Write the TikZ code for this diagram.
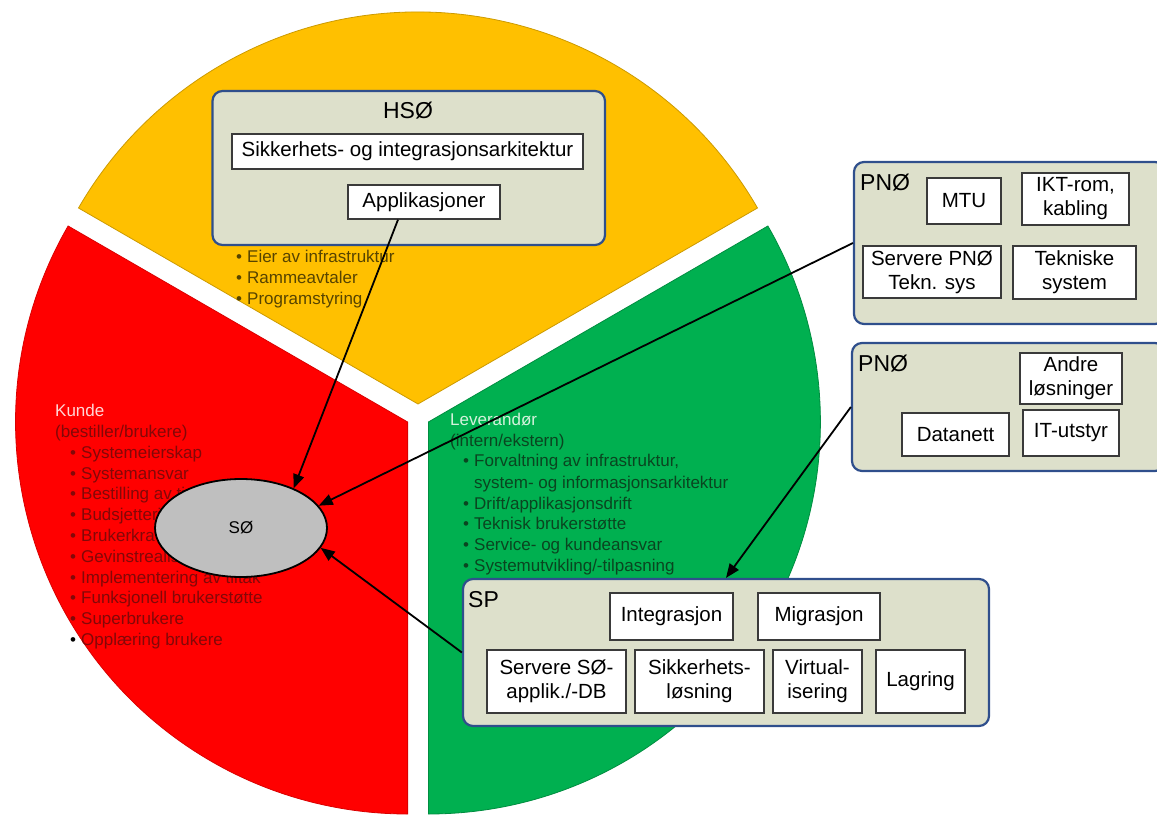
\documentclass[tikz,border=0pt]{standalone}
\usepackage{fontspec}
\setmainfont{Liberation Sans}
\usetikzlibrary{arrows.meta,shapes.geometric}

\definecolor{pieyellow}{HTML}{FFC000}
\definecolor{piered}{HTML}{FF0000}
\definecolor{piegreen}{HTML}{00B050}
\definecolor{groupfill}{HTML}{DDE0CB}
\definecolor{groupline}{HTML}{2F4F8C}
\definecolor{itemline}{HTML}{3A3A3A}
\definecolor{sofill}{HTML}{BFBFBF}
\definecolor{ytext}{HTML}{574400}
\definecolor{rtext}{HTML}{820808}
\definecolor{rhead}{HTML}{FFD6D6}
\definecolor{gtext}{HTML}{0A4520}
\definecolor{ghead}{HTML}{D4F2DC}

\newcommand\pbullet{\makebox[11pt][l]{•}}

\tikzset{
  group/.style={draw=groupline, line width=2.2pt, fill=groupfill,
    rounded corners=10pt, inner sep=0pt},
  item/.style={draw=itemline, line width=1.4pt, fill=white, inner sep=0pt,
    align=center, font=\fontsize{20.5}{24}\selectfont},
  grouptitle/.style={inner sep=0pt, font=\fontsize{23}{27}\selectfont},
  arr/.style={line width=1.8pt, -{Triangle[length=14pt,width=11pt]}},
  slicetext/.style={anchor=west, inner sep=0pt, text height=12pt,
    text depth=3.5pt, font=\fontsize{17}{20}\selectfont},
  slice/.style={line width=0.8pt},
}

\begin{document}
\begin{tikzpicture}[x=1pt,y=1pt]
\path[use as bounding box, clip] (0,0) rectangle (1157,-816);

% exploded pie: three 120-degree slices
\fill[slice, pieyellow, draw=pieyellow!80!black]
  (418,-404) -- ++(30:392) arc[start angle=30, end angle=150, radius=392] -- cycle;
\fill[slice, piegreen, draw=piegreen!80!black]
  (428.4,-422) -- ++(-90:392) arc[start angle=-90, end angle=30, radius=392] -- cycle;
\fill[slice, piered, draw=piered!85!black]
  (407.6,-422) -- ++(150:392) arc[start angle=150, end angle=270, radius=392] -- cycle;

% texts of the yellow slice
\node[slicetext, text=ytext] (y1) at (236,-258) {\pbullet Eier av infrastruktur};
\node[slicetext, text=ytext] (y2) at (236,-279) {\pbullet Rammeavtaler};
\node[slicetext, text=ytext] (y3) at (236,-300) {\pbullet Programstyring};

% texts of the red slice
\node[slicetext, text=rhead] (rhead) at (55,-412) {Kunde};
\node[slicetext, text=rtext] (rsub) at (55,-433.5) {(bestiller/brukere)};
\foreach \t [count=\i] in {Systemeierskap, Systemansvar, Bestilling av tjenester,
    Budsjettering, Brukerkrav, Gevinstrealisering, Implementering av tiltak,
    Funksjonell brukerstøtte, Superbrukere}
  \node[slicetext, text=rtext] (r\i) at (70,{-454-20.8*(\i-1)}) {\pbullet\t};
\node[slicetext, text=rtext] (r10) at (70,-641.2)
  {\makebox[11pt][l]{\textcolor{black}{•}}Opplæring brukere};

% texts of the green slice
\node[slicetext, text=ghead] (ghead) at (450,-421) {Leverandør};
\node[slicetext, text=gtext] (gsub) at (450,-442) {(intern/ekstern)};
\node[slicetext, text=gtext] (g1) at (463,-462) {\pbullet Forvaltning av infrastruktur,};
\node[slicetext, text=gtext] (g1b) at (474,-484) {system- og informasjonsarkitektur};
\node[slicetext, text=gtext] (g2) at (463,-505) {\pbullet Drift/applikasjonsdrift};
\node[slicetext, text=gtext] (g3) at (463,-525) {\pbullet Teknisk brukerstøtte};
\node[slicetext, text=gtext] (g4) at (463,-546) {\pbullet Service- og kundeansvar};
\node[slicetext, text=gtext] (g5) at (463,-567) {\pbullet Systemutvikling/-tilpasning};

% central ellipse
\node[ellipse, draw=black, line width=1.8pt, fill=sofill, minimum width=172pt,
  minimum height=98pt, inner sep=0pt, font=\fontsize{17}{20}\selectfont]
  (so) at (241,-528) {SØ};

% HSØ group
\node[group, minimum width=392.5pt, minimum height=154pt] (hso) at (408.75,-168) {};
\node[grouptitle] (hsot) at (408,-111) {HSØ};
\node[item, minimum width=351pt, minimum height=35pt] (sik) at (407.5,-151.5)
  {Sikkerhets- og integrasjonsarkitektur};
\node[item, minimum width=152pt, minimum height=34pt] (app) at (424,-202)
  {Applikasjoner};

% first PNØ group
\node[group, minimum width=311pt, minimum height=162pt] (pno1) at (1009.5,-243) {};
\node[grouptitle, anchor=west] (pno1t) at (860,-183) {PNØ};
\node[item, minimum width=74pt, minimum height=46pt] (mtu) at (964,-201) {MTU};
\node[item, minimum width=107pt, minimum height=52pt] (ikt) at (1075.5,-199)
  {IKT-rom,\\kabling};
\node[item, minimum width=138pt, minimum height=52pt] (spno) at (932,-272)
  {Servere PNØ\\Tekn. sys};
\node[item, minimum width=123pt, minimum height=53pt] (tek) at (1074.5,-272.5)
  {Tekniske\\system};

% second PNØ group
\node[group, minimum width=313pt, minimum height=128pt] (pno2) at (1008.5,-407) {};
\node[grouptitle, anchor=west] (pno2t) at (858,-364) {PNØ};
\node[item, minimum width=102pt, minimum height=51pt] (andre) at (1071,-378.5)
  {Andre\\løsninger};
\node[item, minimum width=107pt, minimum height=43pt] (dnett) at (955.5,-434.5)
  {Datanett};
\node[item, minimum width=96pt, minimum height=46pt] (itu) at (1071,-433)
  {IT-utstyr};

% SP group
\node[group, minimum width=526pt, minimum height=147pt] (sp) at (726,-652.5) {};
\node[grouptitle, anchor=west] (spt) at (468,-600) {SP};
\node[item, minimum width=123pt, minimum height=47pt] (integ) at (671.5,-616.5)
  {Integrasjon};
\node[item, minimum width=122pt, minimum height=47pt] (migr) at (819,-616.5)
  {Migrasjon};
\node[item, minimum width=139pt, minimum height=63pt] (sso) at (556.5,-681.5)
  {Servere SØ-\\applik./-DB};
\node[item, minimum width=129pt, minimum height=63pt] (sikl) at (699.5,-681.5)
  {Sikkerhets-\\løsning};
\node[item, minimum width=89pt, minimum height=63pt] (virt) at (817.5,-681.5)
  {Virtual-\\isering};
\node[item, minimum width=89pt, minimum height=63pt] (lag) at (920.5,-681.5)
  {Lagring};

% connectors
\draw[arr] ([xshift=-26pt]app.south) -- (so.37);
\draw[arr] (pno1.west) -- (so.16);
\draw[arr] (pno2.west) -- (sp.north);
\draw[arr] (sp.west) -- (so.-14);
\end{tikzpicture}
\end{document}
